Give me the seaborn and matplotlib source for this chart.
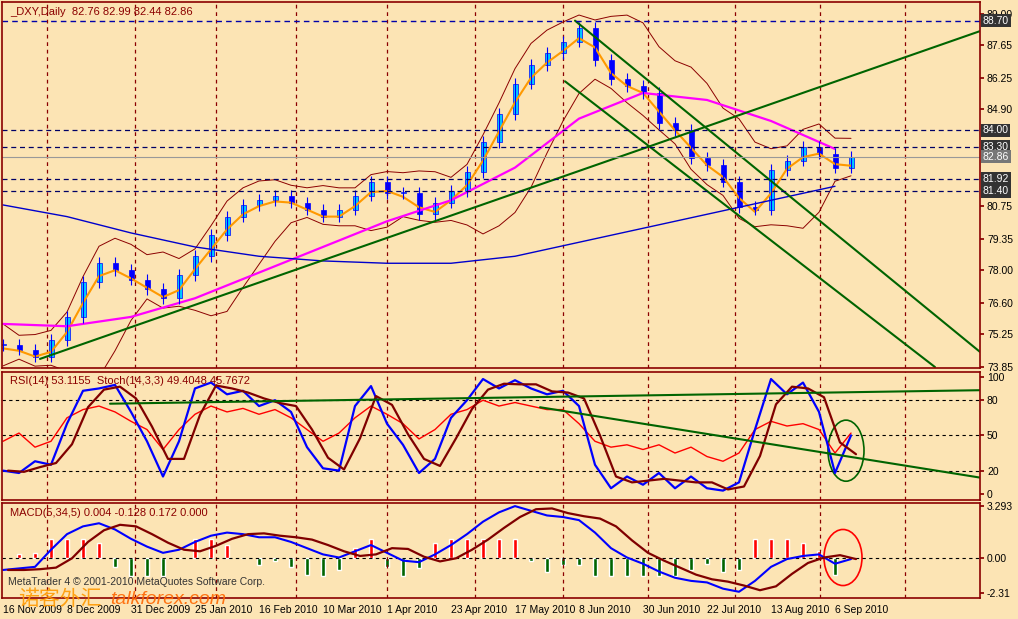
import numpy as np
import pandas as pd
import matplotlib
matplotlib.use("Agg")
import matplotlib.pyplot as plt
import seaborn as sns
from matplotlib.patches import Ellipse, Rectangle

# ---- data (sampled every 4 bars) ----
closes = [74.8, 74.6, 74.3, 75.0, 76.0, 77.5, 78.3, 78.0, 77.6, 77.2, 76.8, 77.8, 78.6, 79.5,
          80.3, 80.8, 81.0, 81.2, 80.9, 80.6, 80.3, 80.6, 81.2, 81.8, 81.3, 81.3, 80.4, 80.9,
          81.4, 82.2, 83.5, 84.7, 86.0, 86.8, 87.3, 87.8, 88.4, 87.0, 86.2, 85.9, 85.6, 84.3,
          84.0, 82.8, 82.5, 81.8, 80.7, 80.6, 82.3, 82.7, 83.3, 83.0, 82.4, 82.86]
ma_magenta = [75.7, 75.6, 76.0, 76.8, 77.9, 79.0, 80.1, 81.0, 82.4, 84.5, 85.6, 85.3, 84.4, 83.2]
ma_blue = [80.8, 80.3, 79.6, 79.0, 78.6, 78.4, 78.3, 78.3, 78.6, 79.2, 79.8, 80.4, 81.0, 81.6]
stoch = [20, 18, 28, 25, 60, 88, 90, 93, 70, 45, 15, 45, 90, 95, 85, 88, 75, 80, 70, 40, 22, 20,
         75, 92, 60, 42, 18, 30, 65, 80, 98, 90, 97, 90, 85, 88, 75, 25, 5, 15, 8, 18, 5, 15, 5, 3,
         10, 55, 98, 85, 95, 70, 18, 50]
rsi = [45, 52, 40, 45, 65, 72, 75, 70, 62, 55, 38, 55, 68, 75, 70, 73, 68, 72, 65, 55, 45, 52, 65,
       75, 68, 60, 47, 55, 68, 72, 80, 75, 78, 75, 72, 72, 60, 45, 40, 42, 38, 42, 35, 40, 32, 28,
       35, 55, 62, 58, 60, 55, 35, 52]
macd = [-0.8, -0.7, -0.6, 0.5, 1.5, 2.0, 2.2, 1.8, 1.2, 0.7, 0.3, 0.5, 1.0, 1.4, 1.6, 1.5, 1.3, 1.3,
        1.0, 0.6, 0.2, 0.0, 0.4, 0.8, 0.3, -0.2, -0.3, 0.2, 0.8, 1.5, 2.3, 2.9, 3.3, 3.0, 2.7, 2.6,
        2.4, 1.6, 0.6, 0.0, -0.4, -0.9, -1.3, -1.5, -1.6, -2.0, -2.2, -1.5, -0.6, -0.1, 0.1, 0.2,
        -0.4, -0.1]
date_labels = ["16 Nov 2009", "8 Dec 2009", "31 Dec 2009", "25 Jan 2010", "16 Feb 2010",
               "10 Mar 2010", "1 Apr 2010", "23 Apr 2010", "17 May 2010", "8 Jun 2010",
               "30 Jun 2010", "22 Jul 2010", "13 Aug 2010", "6 Sep 2010"]
price_ticks = [89.00, 87.65, 86.25, 84.90, 80.75, 79.35, 78.00, 76.60, 75.25, 73.85]
level_lines = [88.70, 84.00, 83.30, 81.92, 81.40]
last_price = 82.86
month_grid = [47, 135, 216, 296, 387, 475, 563, 648, 735, 820, 905]

BG = "#FCE4B4"
DR = "#8B0000"
sns.set_theme(style="white")
plt.rcParams['font.family'] = ['Liberation Sans', 'DejaVu Sans']

fig = plt.figure(figsize=(10.18, 6.19), dpi=100, facecolor=BG)
H = 619.0
def pax(y0, y1):
    return fig.add_axes([2 / 1018, (H - y1) / H, 978 / 1018, (y1 - y0) / H], facecolor=BG)

ax = pax(2, 368)
ax_r = pax(372, 500)
ax_m = pax(503, 598)

n = len(closes)
x = 3 + 16 * np.arange(n)
s = pd.Series(closes)

for a in (ax, ax_r, ax_m):
    a.set_xlim(2, 980)
    for gx in month_grid:
        a.axvline(gx, color=DR, ls=(0, (3, 3)), lw=0.9)
    for sp in a.spines.values():
        sp.set_color(DR)
        sp.set_linewidth(1.2)
    a.set_xticks([])
    a.yaxis.tick_right()
    a.tick_params(axis='y', labelsize=7.5, colors='black', length=3, color=DR, pad=2)

# ---- main panel ----
ax.set_ylim(73.81, 89.5)
mid = s.rolling(5, min_periods=1).mean()
sd = s.rolling(5, min_periods=2).std().fillna(0.4)
ax.plot(x, mid + 1.5 * sd + 0.3, color=DR, lw=0.7)
ax.plot(x, mid - 1.5 * sd - 0.3, color=DR, lw=0.7)
ax.plot(x, s.rolling(2, min_periods=1).mean() - 0.15, color="#FF9900", lw=1.5)
xm = 3 + 64 * np.arange(len(ma_magenta))
ax.plot(xm, ma_magenta, color="#FF00FF", lw=1.6)
ax.plot(xm, ma_blue, color="#0000CC", lw=1.0)
opens = [closes[0]] + closes[:-1]
for xi, o, c in zip(x, opens, closes):
    hi, lo = max(o, c) + 0.25, min(o, c) - 0.25
    ax.vlines(xi, lo, hi, color="#0000FF", lw=0.8)
    ax.add_patch(Rectangle((xi - 2.5, min(o, c)), 5, max(abs(c - o), 0.05),
                           facecolor="#00CCFF" if c >= o else "#0000FF", edgecolor="#0000FF", lw=0.5))
ax.plot([40, 1010], [74.2, 88.7], color="#006400", lw=1.5)
ax.plot([575, 980], [88.7, 74.5], color="#006400", lw=1.5)
ax.plot([565, 935], [86.1, 73.85], color="#006400", lw=1.5)
ax.axhline(level_lines[0], color="#0000AA", ls=(0, (4, 3)), lw=1)
for lv in level_lines[1:]:
    ax.axhline(lv, color="#000066", ls=(0, (4, 3)), lw=0.9)
ax.axhline(last_price, color="#999999", lw=0.8)
ax.set_yticks(price_ticks)
ax.set_yticklabels([f"{v:.2f}" for v in price_ticks])
for lv in level_lines + [last_price]:
    ax.text(1.003, lv, f"{lv:.2f}", transform=ax.get_yaxis_transform(), fontsize=7.5,
            color="white", va="center", ha="left",
            bbox=dict(boxstyle="square,pad=0.15", fc="#333333" if lv != last_price else "#777777", ec="none"))
ax.text(0.008, 0.985, "_DXY,Daily  82.76 82.99 82.44 82.86", transform=ax.transAxes,
        fontsize=8, color=DR, va="top")

# ---- RSI / stochastic ----
ax_r.set_ylim(-5, 104)
for lv in (80, 50, 20):
    ax_r.axhline(lv, color="black", ls=(0, (3, 3)), lw=0.8)
st = pd.Series(stoch)
ax_r.plot(x, rsi, color="#FF0000", lw=1.0)
ax_r.plot(x, st, color="#0000FF", lw=1.6)
ax_r.plot(x + 5, st.rolling(2, min_periods=1).mean(), color="#800000", lw=1.6)
ax_r.plot([110, 1018], [77, 89], color="#006400", lw=1.5)
ax_r.plot([540, 1010], [74, 10], color="#006400", lw=1.5)
ax_r.add_patch(Ellipse((846, 37), 36, 52, fill=False, ec="#006400", lw=1.2))
ax_r.set_yticks([100, 80, 50, 20, 0])
ax_r.text(0.008, 0.97, "RSI(14) 53.1155  Stoch(14,3,3) 49.4048 45.7672", transform=ax_r.transAxes,
          fontsize=8, color=DR, va="top")

# ---- MACD ----
ax_m.set_ylim(-2.6, 3.5)
ax_m.axhline(0, color="black", ls=(0, (3, 3)), lw=0.8)
mc = pd.Series(macd)
sig = mc.rolling(2, min_periods=1).mean().shift(1).fillna(mc[0])
hist = (mc - sig).clip(-0.6, 0.6)
for xi, h in zip(x, hist):
    ax_m.bar(xi, h * 2.0, width=3.5, color="#FF0000" if h >= 0 else "#006400")
ax_m.plot(x, mc, color="#0000FF", lw=1.5)
ax_m.plot(x + 5, sig, color="#800000", lw=1.6)
ax_m.add_patch(Ellipse((843, 0), 38, 3.6, fill=False, ec="#FF0000", lw=1.2))
ax_m.set_yticks([3.293, 0.0, -2.31])
ax_m.set_yticklabels(["3.293", "0.00", "-2.31"])
ax_m.text(0.008, 0.95, "MACD(5,34,5) 0.004 -0.128 0.172 0.000", transform=ax_m.transAxes,
          fontsize=8, color=DR, va="top")
ax_m.text(0.006, 0.12, "MetaTrader 4 © 2001-2010 MetaQuotes Software Corp.", transform=ax_m.transAxes,
          fontsize=7.5, color="#333333", va="bottom")

# date labels
for i, lab in enumerate(date_labels):
    fig.text((3 + 64 * i) / 1018, 1 - 610 / H, lab, fontsize=7.5, color="black", va="center")

fig.text(18 / 1018, 1 - 599 / H, "诺客外汇", fontsize=15, color="#FF9900", style="italic",
         family=['Noto Sans CJK SC', 'DejaVu Sans'], va="center", alpha=0.9)
fig.text(110 / 1018, 1 - 599 / H, "talkforex.com", fontsize=14, color="#FF6600", style="italic",
         va="center", alpha=0.9)

fig.savefig("out.png", dpi=100, facecolor=BG)
